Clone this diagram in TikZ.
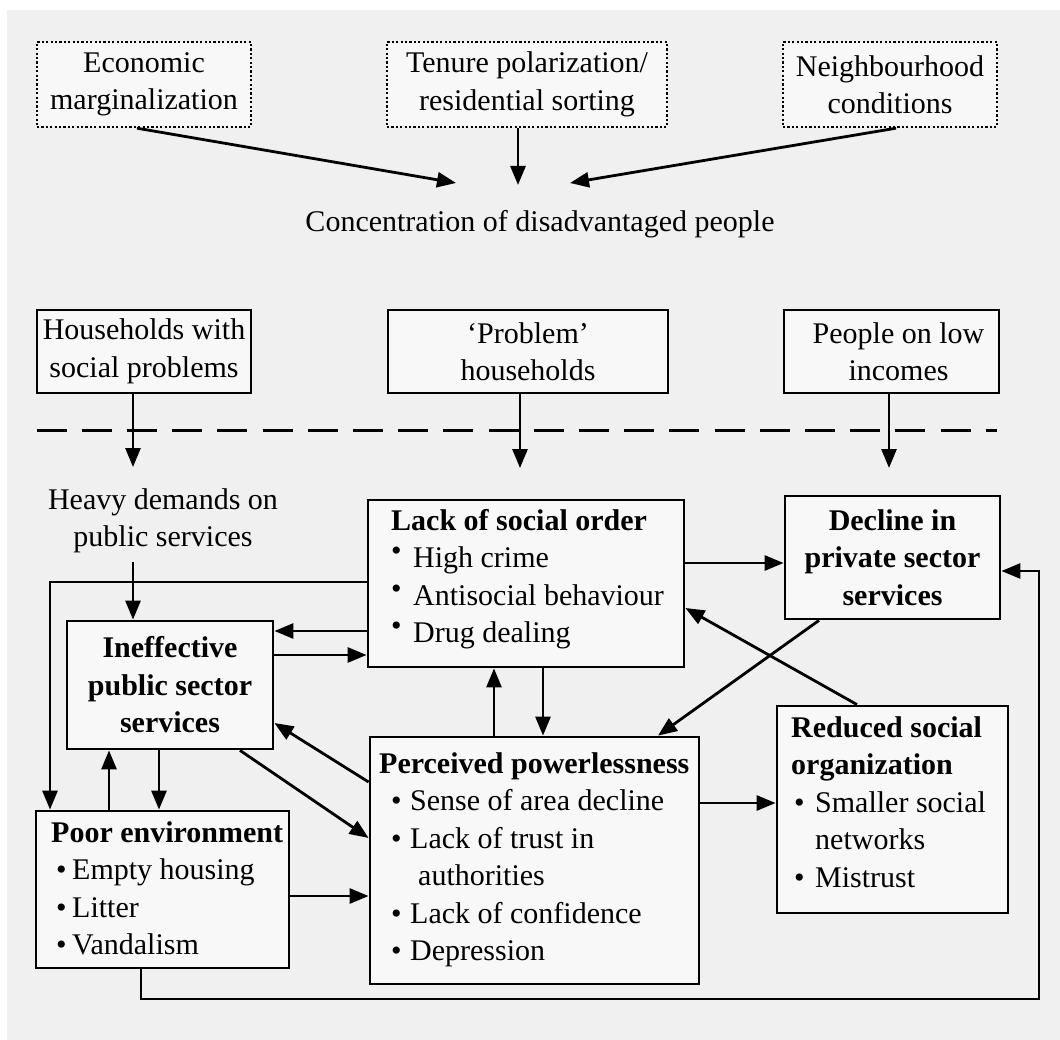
\documentclass[tikz,border=0pt]{standalone}
\usepackage{fontspec}
\setmainfont{Liberation Serif}
\usetikzlibrary{arrows.meta}
\definecolor{pagebg}{HTML}{F0F0F0}
\definecolor{boxfill}{HTML}{F8F8F8}
% bullet helpers: raised bullet, and indented bullets of various widths
\newcommand\rbul{\makebox[22pt][l]{\raisebox{7pt}{•}}}
\newcommand\pbul{\hspace*{12pt}\makebox[19pt][l]{•}}
\newcommand\ebul{\hspace*{5pt}\makebox[16pt][l]{•}}
\newcommand\sbul{\hspace*{3pt}\makebox[21pt][l]{•}}
\begin{document}
\begin{tikzpicture}[x=1pt,y=-1pt,
  every node/.style={font=\fontsize{30}{37.5}\selectfont},
  box/.style={draw, line width=2.8pt, fill=boxfill, inner sep=0pt, align=center},
  dotbox/.style={box, line width=2.4pt, dash pattern=on 2.2pt off 2.2pt},
  bold/.style={font=\fontsize{30}{37.5}\selectfont\bfseries},
  plain/.style={inner sep=0pt},
  arr/.style={line width=2.8pt, -{Triangle[length=19pt,width=15pt]}},
  sep/.style={line width=3pt, dash pattern=on 30pt off 15.2pt}
]
\useasboundingbox (0,0) rectangle (1060,1040);
\fill[white] (0,0) rectangle (1060,1040);
\fill[pagebg] (7,10) rectangle (1060,1040);

% ---- causes of concentration ----
\node[dotbox, minimum width=214pt, minimum height=85pt] (econ) at (144,84.5) {Economic\\marginalization};
\node[dotbox, minimum width=280pt, minimum height=85pt] (tenure) at (527,84.5) {Tenure polarization/\\residential sorting};
\node[dotbox, minimum width=214pt, minimum height=85pt] (neigh) at (890,84.5) {Neighbourhood\\conditions};
\node[plain, anchor=base] (conc) at (540,232) {Concentration of disadvantaged people};
\coordinate (concA) at (456,183);
\coordinate (concB) at (518,185);
\coordinate (concC) at (570,183);
\draw[arr] ([xshift=-7pt]econ.south) -- (concA);
\draw[arr] ([xshift=-9pt]tenure.south) -- (concB);
\draw[arr] ([xshift=6pt]neigh.south) -- (concC);

% ---- household groups ----
\node[box, minimum width=214pt, minimum height=83pt] (hh) at (144,351.5) {Households with\\social problems};
\node[box, minimum width=280pt, minimum height=83pt] (prob) at (528,351.5) {‘Problem’\\households};
\node[box, minimum width=215pt, minimum height=83pt] (low) at (891.5,351.5) {\hspace*{14pt}People on low\\\hspace*{14pt}incomes};
\coordinate (sepL) at (36.5,430);
\coordinate (sepR) at (997,430);
\draw[sep] (sepL) -- (sepR);
\coordinate (inA) at (133,467);
\coordinate (inB) at (520,468);
\coordinate (inC) at (889,468);
\draw[arr] ([xshift=-11pt]hh.south) -- (inA);
\draw[arr] ([xshift=-8pt]prob.south) -- (inB);
\draw[arr] ([xshift=-2.5pt]low.south) -- (inC);

% ---- neighbourhood processes ----
\node[inner sep=9pt, align=center] (heavy) at (163,520.7) {Heavy demands on\\public services};

\node[box, bold, minimum width=206pt, minimum height=128pt] (ineff) at (170,685) {Ineffective\\public sector\\services};
\node[box, bold, minimum width=215pt, minimum height=123pt] (decline) at (892.5,557.5) {Decline in\\private sector\\services};

\node[box, minimum width=316pt, minimum height=167pt] (lack) at (526,583.5) {};
\node[plain, anchor=base west] (lackT) at (391,530) {\begin{tabular}[t]{@{}l@{}}\textbf{Lack of social order}\\\rbul High crime\\\rbul Antisocial behaviour\\\rbul Drug dealing\end{tabular}};

\node[box, minimum width=329pt, minimum height=247pt] (pp) at (534.5,860.5) {};
\node[plain, anchor=base west] (ppT) at (379,773) {\begin{tabular}[t]{@{}l@{}}\textbf{Perceived powerlessness}\\\pbul Sense of area decline\\\pbul Lack of trust in\\\hspace*{39pt}authorities\\\pbul Lack of confidence\\\pbul Depression\end{tabular}};

\node[box, minimum width=231pt, minimum height=207pt] (red) at (892.5,809.5) {};
\node[plain, anchor=base west] (redT) at (791,737) {\begin{tabular}[t]{@{}l@{}}\textbf{Reduced social}\\\textbf{organization}\\\sbul Smaller social\\\hspace*{24pt}networks\\\sbul Mistrust\end{tabular}};

\node[box, minimum width=253pt, minimum height=157pt] (poor) at (162.5,889.5) {};
\node[plain, anchor=base west] (poorT) at (51,842) {\begin{tabular}[t]{@{}l@{}}\textbf{Poor environment}\\\ebul Empty housing\\\ebul Litter\\\ebul Vandalism\end{tabular}};

% ---- connectors ----
\draw[arr] ([xshift=-30pt]heavy.south) -- ([xshift=-37pt]ineff.north);
\draw[arr] ([yshift=20.5pt]lack.east) -- ([yshift=-5.5pt]decline.west);
\coordinate (loopR) at (1039,999);
\draw[arr] ([xshift=-21.5pt]poor.south) |- (loopR) |- ([yshift=-13.5pt]decline.east);
\draw[arr] ([xshift=-35.5pt]red.north) -- ([yshift=-24.5pt]lack.east);
\draw[arr] ([xshift=-73.5pt]decline.south) -- ([xshift=123.5pt]pp.north);
\draw[arr] ([xshift=17pt]lack.south) -- ([xshift=8.5pt]pp.north);
\draw[arr] ([xshift=-40.5pt]pp.north) -- ([xshift=-32pt]lack.south);
\draw[arr] ([yshift=57.5pt]pp.east) -- ([yshift=6.5pt]red.west);
\draw[arr] ([yshift=-47.5pt]lack.west) -- ([yshift=54pt]ineff.east);
\draw[arr] ([yshift=30pt]ineff.east) -- ([yshift=-71.5pt]lack.west);
\draw[arr] ([yshift=1.5pt]lack.west) -| ([xshift=-112.5pt]poor.north);
\draw[arr] ([xshift=-53.5pt]poor.north) -- ([xshift=-61pt]ineff.south);
\draw[arr] ([xshift=-11pt]ineff.south) -- ([xshift=-3.5pt]poor.north);
\draw[arr] ([yshift=78.5pt]pp.west) -- ([yshift=-38pt]ineff.east);
\draw[arr] ([xshift=70pt]ineff.south) -- ([yshift=22.5pt]pp.west);
\draw[arr] ([yshift=-6.5pt]poor.east) -- ([yshift=-35.5pt]pp.west);
\end{tikzpicture}
\end{document}
